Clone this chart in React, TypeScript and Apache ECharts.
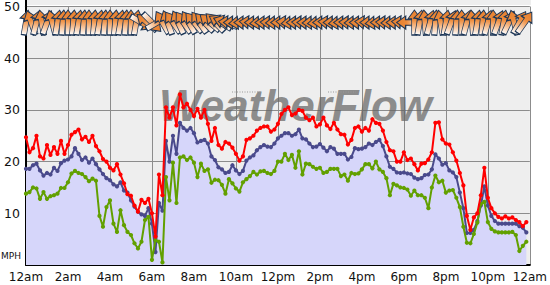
import React, { useEffect, useRef } from "react";
import * as echarts from "echarts";

// 10-minute samples, 12am .. 11:50pm
const gust = [
  24.7, 21.8, 22.6, 25.0, 21.0, 20.6, 23.2, 21.3, 22.8, 21.5,
  24.0, 21.5, 23.2, 25.2, 25.7, 26.2, 24.3, 24.8, 23.8, 25.0,
  23.0, 22.0, 20.5, 20.0, 18.8, 18.3, 19.5, 17.5, 15.8, 13.7,
  13.4, 11.5, 10.3, 12.6, 12.0, 12.8, 10.0, 5.5, 17.5, 13.5,
  30.5, 28.5, 30.5, 27.0, 33.0, 30.5, 31.2, 30.0, 28.8, 30.2,
  28.5, 30.0, 27.3, 24.0, 26.5, 23.2, 22.5, 23.8, 23.5, 22.7,
  21.5, 20.2, 21.0, 24.2, 24.5, 25.0, 26.0, 26.5, 26.8, 26.8,
  25.8, 26.2, 27.3, 29.2, 30.0, 30.5, 29.0, 29.3, 30.0, 29.8,
  28.5, 28.0, 28.5, 26.8, 27.2, 28.5, 27.0, 26.3, 27.5, 26.2,
  25.3, 25.2, 23.3, 24.2, 26.5, 26.8, 25.8, 26.5, 26.0, 28.2,
  27.5, 27.3, 26.0, 23.8, 22.2, 22.0, 20.0, 20.0, 21.8, 20.3,
  20.6, 19.5, 18.3, 19.6, 19.7, 20.4, 21.8, 27.5, 27.6, 24.3,
  23.5, 23.3, 21.8, 20.2, 17.8, 15.4, 9.5, 6.8, 9.2, 10.0,
  13.5, 18.8, 13.0, 11.0, 10.0, 9.3, 9.0, 9.4, 9.0, 9.2,
  8.7, 8.3, 7.5, 8.3,
];
const avg = [
  18.6, 18.6, 19.3, 19.6, 18.3, 17.3, 17.8, 17.5, 18.8, 18.2,
  19.7, 20.2, 20.4, 21.0, 22.6, 21.5, 20.3, 20.8, 19.8, 20.6,
  19.5, 18.5, 17.6, 16.8, 16.4, 15.6, 15.2, 16.0, 14.4, 14.0,
  12.5, 11.3, 10.3, 9.8, 9.5, 11.0, 8.0, 2.5, 12.0, 10.5,
  24.0, 20.0, 25.0, 21.5, 27.5, 26.5, 26.0, 26.5, 25.5, 23.7,
  24.0, 24.2, 23.5, 21.0, 20.3, 18.9, 18.5, 17.8, 18.0, 19.3,
  18.3, 17.6, 18.2, 20.2, 20.8, 21.2, 22.2, 22.8, 23.2, 22.9,
  22.8, 23.5, 24.5, 25.0, 25.5, 25.5, 25.0, 25.3, 26.2, 24.5,
  24.3, 23.5, 22.8, 22.9, 23.4, 22.7, 22.0, 22.8, 22.5, 21.5,
  21.5, 21.5, 20.4, 20.9, 22.6, 22.4, 22.5, 22.8, 23.5, 23.2,
  23.8, 24.2, 23.0, 21.0, 19.0, 18.6, 17.9, 17.8, 17.9, 17.7,
  17.6, 16.9, 16.6, 16.8, 17.4, 17.5, 18.5, 21.4, 20.6, 19.4,
  19.7, 18.3, 17.9, 17.0, 14.0, 11.0, 6.2, 6.2, 6.8, 8.5,
  11.5, 15.2, 11.5, 9.5, 8.5, 8.0, 8.0, 8.0, 8.0, 8.0,
  8.0, 7.5, 7.2, 6.3,
];
const lull = [
  13.8, 14.1, 15.0, 14.8, 12.8, 14.1, 12.8, 13.3, 13.5, 13.8,
  14.9, 14.9, 16.0, 17.7, 18.2, 17.8, 17.6, 17.0, 16.2, 16.7,
  16.3, 9.5, 7.4, 11.2, 12.5, 8.0, 6.4, 10.6, 7.7, 6.4,
  5.8, 4.2, 3.2, 4.5, 8.7, 9.3, 1.0, 4.8, 4.5, 0.5,
  17.0, 12.5, 19.8, 12.0, 20.8, 21.0, 20.3, 20.8, 19.8, 17.0,
  19.6, 18.2, 18.5, 15.9, 16.5, 16.4, 15.5, 13.8, 16.6, 15.8,
  14.8, 14.2, 16.0, 16.6, 17.2, 18.0, 17.5, 18.1, 18.2, 17.8,
  17.6, 18.2, 20.0, 20.0, 21.5, 20.3, 21.3, 18.8, 22.0, 17.5,
  19.6, 19.5, 19.0, 18.6, 18.8, 17.8, 18.0, 18.6, 18.6, 18.6,
  17.2, 17.5, 16.3, 17.8, 17.6, 17.7, 18.5, 19.5, 19.5, 18.7,
  20.0, 18.5, 18.0, 16.8, 13.5, 15.7, 15.4, 15.0, 14.9, 14.6,
  13.4, 14.4, 13.5, 13.5, 13.0, 11.0, 15.0, 17.3, 16.0, 16.3,
  14.0, 14.4, 14.5, 13.0, 11.2, 7.4, 4.3, 4.2, 6.0, 8.2,
  11.8, 12.2, 8.3, 7.0, 6.5, 6.3, 6.3, 6.3, 6.3, 6.4,
  5.8, 2.7, 3.7, 4.5,
];
// 15-minute wind direction arrows: heading the arrow points to, degrees clockwise from up
const windDir = [
  10, -20, 15, -10, 20, -15, 10, 5, 0, 5, 10, 5, 0, 5, 10, 5, 0, 5, 10, 5, 0, 10,
  120, -50, 135, 60,
  -30, -20, -35, -25,
  -35, -30, -40, -35, -45, -50, -45, -60, -70,
  -85, -90, -95, -90, -85, -90, -95, -90, -88, -92, -90, -85, -95, -90, -88, -90, -92, -95,
  -90, -85, -90, -95, -90, -88, -92, -90, -85, -90, -95, -90, -88, -92, -90, -85, -90,
  0, 10, -5, 15, 5, -10, 10, 20, 5, 0, 15, -5, 10, 5, 15, 0, 20, 10, 25, -15, 30, 35,
];
const xLabels = ["12am", "2am", "4am", "6am", "8am", "10am", "12pm", "2pm", "4pm", "6pm", "8pm", "10pm", "12am"];
const yTicks = [0, 10, 20, 30, 40, 50];

const ARROW = "path://M6.5,0 L13,9 L9.2,9 L9.2,25 L3.8,25 L3.8,9 L0,9 Z";
const FONT = "DejaVu Sans";

export default function App() {
  const ref = useRef<HTMLDivElement>(null);
  useEffect(() => {
    if (!ref.current) return;
    const chart = echarts.init(ref.current, undefined, { renderer: "svg" });
    const toPts = (arr: number[]) => arr.map((v, i) => [i / 6, v]);
    const grad = new echarts.graphic.LinearGradient(0, 0, 0, 1, [
      { offset: 0, color: "#e67f2e" },
      { offset: 0.4, color: "#ee8c3c" },
      { offset: 1, color: "#ffffff" },
    ]);
    const lineSeries = (data: number[], color: string, z: number, area?: string) => ({
      type: "line",
      data: toPts(data),
      symbol: "circle",
      symbolSize: 4.2,
      showSymbol: true,
      lineStyle: { color, width: 2 },
      itemStyle: { color },
      ...(area ? { areaStyle: { color: area, opacity: 1 } } : {}),
      z,
    });
    chart.setOption({
      animation: false,
      backgroundColor: "#ffffff",
      grid: {
        left: 26,
        right: 19,
        top: 5,
        bottom: 20,
        show: true,
        backgroundColor: "#eeeeee",
        borderWidth: 0,
      },
      xAxis: {
        type: "value",
        min: 0,
        max: 24,
        interval: 2,
        axisLine: { show: true, onZero: false, lineStyle: { color: "#000", width: 2 } },
        axisTick: { show: false },
        splitLine: { show: true, lineStyle: { color: "#8c8c8c", width: 1 } },
        axisLabel: {
          margin: 6,
          fontFamily: FONT,
          fontSize: 12,
          color: "#111",
          formatter: (v: number) => xLabels[Math.round(v / 2)] ?? "",
        },
      },
      yAxis: {
        type: "value",
        min: 0,
        max: 50,
        interval: 10,
        axisLine: { show: true, lineStyle: { color: "#000", width: 2 } },
        axisTick: { show: false },
        splitLine: { show: true, lineStyle: { color: "#8c8c8c", width: 1 } },
        axisLabel: {
          margin: 6,
          fontFamily: FONT,
          fontSize: 12.5,
          color: "#111",
          formatter: (v: number) => (yTicks.includes(v) && v !== 0 ? String(v) : ""),
        },
      },
      graphic: [
        { type: "rect", shape: { x: 26, y: 0, width: 505, height: 5 }, style: { fill: "#eeeeee" }, z: -1 },
        { type: "rect", shape: { x: 25, y: 0, width: 2, height: 6 }, style: { fill: "#000" }, z: 5 },
        {
          type: "text",
          x: 159,
          y: 127,
          z: 1,
          style: {
            text: "WeatherFlow",
            font: "italic bold 44px 'Liberation Sans'",
            fill: "#666666",
            opacity: 0.72,
            textVerticalAlign: "bottom",
          },
        },
        { type: "line", z: 1, shape: { x1: 232, y1: 92, x2: 262, y2: 92 }, style: { stroke: "#999", lineWidth: 1, lineDash: [1, 1.5] } },
        { type: "line", z: 1, shape: { x1: 328, y1: 92, x2: 356, y2: 92 }, style: { stroke: "#999", lineWidth: 1, lineDash: [1, 1.5] } },
        {
          type: "text",
          x: 1,
          y: 256,
          style: { text: "MPH", font: `9px '${FONT}'`, fill: "#111", textVerticalAlign: "middle" },
        },
      ],
      series: [
        lineSeries(avg, "#4a4a8c", 2, "#d6d6fa"),
        lineSeries(lull, "#62a000", 3),
        lineSeries(gust, "#ff0000", 4),
        {
          type: "scatter",
          data: windDir.map((d, i) => ({ value: [i * 0.25, 46.9], symbolRotate: -d })),
          symbol: ARROW,
          symbolSize: [13, 25],
          itemStyle: { color: grad, borderColor: "#1d3656", borderWidth: 1, opacity: 1 },
          z: 6,
          clip: false,
        },
      ],
    });
    return () => chart.dispose();
  }, []);
  return (
    <div
      ref={ref}
      style={{ position: "fixed", left: 0, top: 0, width: 550, height: 285, background: "#fff" }}
    />
  );
}
